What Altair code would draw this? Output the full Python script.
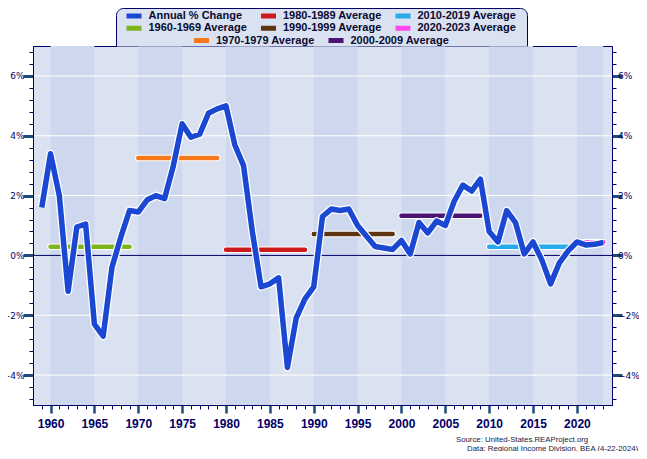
import altair as alt
import pandas as pd

# ---------------- data ----------------
years = list(range(1959, 2024))
annual_pct = [1.6, 3.4, 2.0, -1.2, 0.95, 1.05, -2.3, -2.7, -0.4, 0.6, 1.5,
              1.45, 1.85, 2.0, 1.9, 3.0, 4.4, 3.95, 4.05, 4.75, 4.9,
              5.0, 3.7, 3.0, 0.8, -1.05, -0.95, -0.75, -3.75, -2.1, -1.45,
              -1.05, 1.3, 1.55, 1.5, 1.55, 1.0, 0.65, 0.3, 0.25, 0.2,
              0.5, 0.05, 1.1, 0.75, 1.15, 1.0, 1.8, 2.35, 2.15, 2.55,
              0.8, 0.45, 1.5, 1.1, 0.05, 0.45, -0.15, -0.95, -0.25, 0.15,
              0.45, 0.35, 0.37, 0.43]
annual_label = "Annual % Change"
annual_color = "#1A48D2"

dec_labels = ["1960-1969 Average", "1970-1979 Average", "1980-1989 Average",
              "1990-1999 Average", "2000-2009 Average", "2010-2019 Average",
              "2020-2023 Average"]
dec_start = [1960, 1970, 1980, 1990, 2000, 2010, 2020]
dec_end = [1969, 1979, 1989, 1999, 2009, 2019, 2023]
dec_avg = [0.29, 3.26, 0.19, 0.72, 1.33, 0.29, 0.44]
dec_colors = ["#7CB51C", "#F7781A", "#CC1A1A", "#5E3410", "#4B1374",
              "#25AAEE", "#FF47EE"]

# legend A is filled column by column (3 columns x 2 rows)
legend_a = ["Annual % Change", "1960-1969 Average", "1980-1989 Average",
            "1990-1999 Average", "2010-2019 Average", "2020-2023 Average"]
legend_b = ["1970-1979 Average", "2000-2009 Average"]

band_start = [1960, 1970, 1980, 1990, 2000, 2010, 2020]
band_end = [1965, 1975, 1985, 1995, 2005, 2015, 2023]

x_domain = [1958, 2024]
y_domain = [-5, 7]
y_ticks = [round(-4.8 + 0.4 * k, 1) for k in range(30)]
grid_white = [-4, -2, 2, 4, 6]
grid_zero = [0]

source_lines = ["Source: United-States.REAProject.org",
                "Data: Regional Income Division, BEA (4-22-2024)"]

# ---------------- styling ----------------
NAVY = "#000066"
MAJ = "#1F4A7A"
LIGHT = "#DAE2F2"
DARK = "#CDD8EE"

color_of = {annual_label: annual_color}
color_of.update(dict(zip(dec_labels, dec_colors)))

df_annual = pd.DataFrame({"year": years, "pct": annual_pct, "series": annual_label})
df_dec = pd.DataFrame({"series": dec_labels, "start": dec_start, "end": dec_end, "avg": dec_avg})
df_decA = df_dec[~df_dec["series"].isin(legend_b)]
df_decB = df_dec[df_dec["series"].isin(legend_b)]
df_band = pd.DataFrame({"bs": band_start, "be": band_end,
                        "lo": [y_domain[0]] * len(band_start),
                        "hi": [y_domain[1]] * len(band_start)})
df_gw = pd.DataFrame({"g": grid_white})
df_gz = pd.DataFrame({"g": grid_zero})
df_one = pd.DataFrame({"k": [0]})

xs = alt.Scale(domain=x_domain, nice=False, zero=False)
ys = alt.Scale(domain=y_domain, nice=False, zero=False)

x_axis = alt.Axis(
    values=years, title=None, grid=False, zindex=1,
    labelExpr="datum.value % 5 === 0 ? datum.label : ''",
    format="d", labelOverlap=False, labelFlush=False, labelBound=False,
    tickSize={"condition": {"test": "datum.value % 5 === 0", "value": 8}, "value": 4},
    tickWidth={"condition": {"test": "datum.value % 5 === 0", "value": 2.5}, "value": 1},
    tickColor={"condition": {"test": "datum.value % 5 === 0", "value": MAJ}, "value": NAVY},
    domainColor=NAVY, domainWidth=1,
    labelFont="Liberation Sans", labelFontWeight="bold", labelFontSize=12,
    labelColor=NAVY, labelPadding=5,
)


def y_axis(orient, pad):
    return alt.Axis(
        orient=orient, values=y_ticks, title=None, grid=False, zindex=1,
        labelExpr="abs(datum.value % 2) < 0.001 ? format(datum.value, 'd') + '%' : ''",
        labelOverlap=False, labelFlush=False, labelBound=False,
        tickSize={"condition": {"test": "abs(datum.value % 2) < 0.001", "value": 10}, "value": 4},
        tickWidth={"condition": {"test": "abs(datum.value % 2) < 0.001", "value": 3}, "value": 1},
        tickColor={"condition": {"test": "abs(datum.value % 2) < 0.001", "value": MAJ}, "value": NAVY},
        domainColor=NAVY, domainWidth=1,
        labelFont="DejaVu Sans", labelFontSize=9, labelColor=NAVY, labelPadding=pad,
    )


yl = y_axis("left", -1)
yr = y_axis("right", -4.5)

leg_common = dict(
    orient="none", title=None, symbolType="M-4,0H4", symbolSize=22.6,
    symbolStrokeWidth=5, labelFont="Liberation Sans", labelFontSize=11,
    labelFontWeight="bold", labelColor="#0A0A30", labelOffset=11,
    columnPadding=13.5, rowPadding=0.3, clipHeight=12, padding=0, labelLimit=300,
)

colorA = alt.Color("series:N", scale=alt.Scale(domain=legend_a, range=[color_of[s] for s in legend_a]),
                   legend=alt.Legend(columns=3, legendX=93.5, legendY=-36, **leg_common))
colorB = alt.Color("series:N", scale=alt.Scale(domain=legend_b, range=[color_of[s] for s in legend_b]),
                   legend=alt.Legend(columns=2, legendX=161, legendY=-11.4, **leg_common))

bands = alt.Chart(df_band).mark_rect(color=DARK).encode(
    x=alt.X("bs:Q", scale=xs, axis=x_axis), x2="be:Q",
    y=alt.Y("lo:Q", scale=ys, axis=yl), y2="hi:Q")

gw = alt.Chart(df_gw).mark_rule(color="white", strokeWidth=1).encode(
    y=alt.Y("g:Q", scale=ys, axis=yl))
gz = alt.Chart(df_gz).mark_rule(color=NAVY, strokeWidth=1).encode(
    y=alt.Y("g:Q", scale=ys, axis=yl))


def avg_layers(df, color):
    enc = dict(x=alt.X("start:Q", scale=xs, axis=x_axis), x2="end:Q",
               y=alt.Y("avg:Q", scale=ys, axis=yl))
    halo = alt.Chart(df).mark_rule(color="white", strokeWidth=6.5, strokeCap="round").encode(**enc)
    line = alt.Chart(df).mark_rule(strokeWidth=4.5, strokeCap="round").encode(color=color, **enc)
    return halo, line


avgA_halo, avgA = avg_layers(df_decA, colorA)
avgB_halo, avgB = avg_layers(df_decB, colorB)

benc = dict(x=alt.X("year:Q", scale=xs, axis=x_axis), y=alt.Y("pct:Q", scale=ys, axis=yl))
blue_halo = alt.Chart(df_annual).mark_line(color="white", strokeWidth=8, strokeJoin="round").encode(**benc)
blue = alt.Chart(df_annual).mark_line(strokeWidth=5.5, strokeJoin="round").encode(color=colorA, **benc)

inner = alt.layer(avgA_halo, avgA, blue_halo, blue)

legend_box = alt.Chart(df_one).mark_rect(
    fill=LIGHT, stroke=NAVY, strokeWidth=1,
    cornerRadiusTopLeft=7, cornerRadiusTopRight=7).encode(
    x=alt.value(83.5), x2=alt.value(494.5), y=alt.value(-37.5), y2=alt.value(0))
cover = alt.Chart(df_one).mark_rect(fill=LIGHT, strokeWidth=0).encode(
    x=alt.value(84), x2=alt.value(494), y=alt.value(-1.5), y2=alt.value(0.6))

src_style = dict(align="left", baseline="middle", font="Liberation Sans",
                 fontSize=7.8, color="#202040")
src1 = alt.Chart(df_one).mark_text(**src_style).encode(
    x=alt.value(423), y=alt.value(393.5), text=alt.value(source_lines[0]))
src2 = alt.Chart(df_one).mark_text(**src_style).encode(
    x=alt.value(434), y=alt.value(402.5), text=alt.value(source_lines[1]))

main = alt.layer(bands, gw, gz, avgB_halo, avgB, inner, legend_box, cover, src1, src2
                 ).resolve_scale(color="independent")

right = alt.Chart(df_gw).mark_rule(opacity=0).encode(y=alt.Y("g:Q", scale=ys, axis=yr))

chart = alt.layer(main, right).resolve_scale(y="independent").properties(
    width=579, height=359,
    autosize=alt.AutoSizeParams(type="none"),
    padding={"left": 25, "top": 38, "right": 27, "bottom": 46},
    background="white",
).configure_view(fill=LIGHT, stroke=NAVY, strokeWidth=1)

chart.save("out.html", embed_options={"renderer": "svg", "actions": False})
